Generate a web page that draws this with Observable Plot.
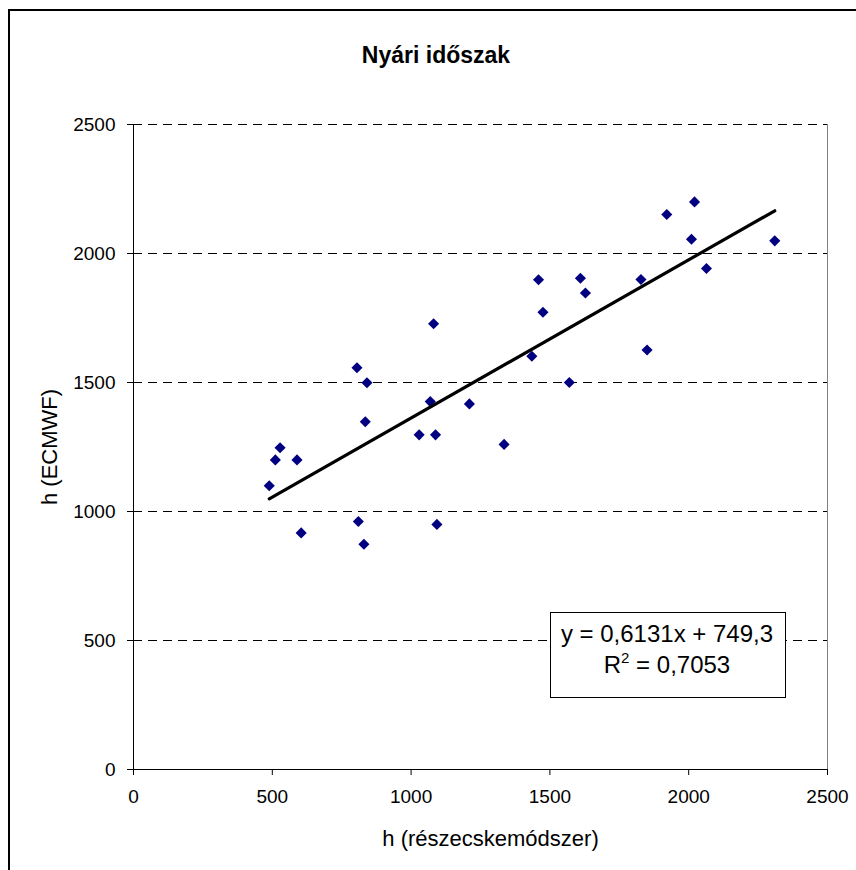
<!DOCTYPE html>
<html>
<head>
<meta charset="utf-8">
<script src="https://cdn.jsdelivr.net/npm/d3@7"></script>
<script src="https://cdn.jsdelivr.net/npm/@observablehq/plot@0.6"></script>
<style>
  html, body { margin: 0; padding: 0; background: #fff; }
  body { width: 856px; height: 870px; overflow: hidden; position: relative;
         font-family: "Liberation Sans", Arial, sans-serif; }
  #frame { position: absolute; left: 8px; top: 9px; width: 900px; height: 900px;
           border-left: 2px solid #000; border-top: 2px solid #000; pointer-events: none; }
  #title { box-sizing: border-box; width: 856px; height: 90px; padding-top: 20px; padding-left: 16px;
           line-height: 70px; text-align: center; font-weight: bold; font-size: 23px; color: #000; }
  #chart svg { display: block; }
</style>
</head>
<body>
<div id="frame"></div>
<div id="title">Nyári időszak</div>
<div id="chart"></div>
<script>
// Particle-method height (x) vs. ECMWF height (y), summer period
const xValues = [489, 511, 528, 589, 604, 805, 810, 835, 841, 830,
                 1029, 1069, 1081, 1088, 1093, 1210, 1335, 1435, 1459, 1475,
                 1570, 1610, 1628, 1828, 1850, 1921, 2010, 2021, 2064, 2310];
const yValues = [1100, 1200, 1247, 1200, 917, 1557, 961, 1348, 1499, 873,
                 1297, 1426, 1728, 1297, 950, 1417, 1260, 1602, 1898, 1772,
                 1500, 1904, 1847, 1899, 1626, 2151, 2055, 2200, 1942, 2049];
const ticks = [0, 500, 1000, 1500, 2000, 2500];
const gridValues = [500, 1000, 1500, 2000, 2500];

// Linear trend line coefficients
const slope = 0.6131;
const intercept = 749.3;
const rSquared = 0.7053;

const xLabel = "h (részecskemódszer)";
const yLabel = "h (ECMWF)";

const points = xValues.map((x, i) => ({x, y: yValues[i]}));
const [xMin, xMax] = d3.extent(xValues);
const trend = [xMin, xMax].map(x => ({x, y: slope * x + intercept}));

const fmt = (v, digits) => v.toFixed(digits).replace(".", ",");

const chart = Plot.plot({
  width: 856,
  height: 780,
  marginLeft: 133,
  marginRight: 29,
  marginTop: 34,
  marginBottom: 101,
  style: {fontFamily: "'Liberation Sans', Arial, sans-serif", fontSize: "19px", color: "#000", background: "#fff"},
  x: {domain: [0, 2500]},
  y: {domain: [0, 2500]},
  marks: [
    Plot.ruleY(gridValues, {stroke: "#000", strokeWidth: 1, strokeDasharray: "9,6"}),
    Plot.ruleX([2500], {stroke: "#808080", strokeWidth: 1}),
    Plot.ruleY([0], {stroke: "#000", strokeWidth: 1}),
    Plot.ruleX([0], {stroke: "#000", strokeWidth: 1}),
    Plot.axisX({ticks, tickSize: 6, tickPadding: 14, tickFormat: d3.format("d"), label: null, fontSize: 19, strokeWidth: 1}),
    Plot.axisY({ticks, tickSize: 6, tickPadding: 12, tickFormat: d3.format("d"), label: null, fontSize: 19, strokeWidth: 1}),
    Plot.dot(points, {x: "x", y: "y", symbol: "diamond2", r: 5, fill: "#000080", stroke: "none"}),
    Plot.line(trend, {x: "x", y: "y", stroke: "#000", strokeWidth: 3.2}),
    Plot.text([xLabel], {frameAnchor: "bottom", lineAnchor: "middle", textAnchor: "middle", dx: 10, dy: 69, fontSize: 22, fill: "#000"}),
    Plot.text([yLabel], {frameAnchor: "left", lineAnchor: "middle", textAnchor: "middle", dx: -84, rotate: -90, fontSize: 22, fill: "#000"})
  ]
});

// Trend line equation box
const svg = d3.select(chart);
const box = svg.append("g");
box.append("rect")
  .attr("x", 550.5).attr("y", 522.5).attr("width", 235).attr("height", 85)
  .attr("fill", "#fff").attr("stroke", "#000").attr("stroke-width", 1);
box.append("text")
  .attr("x", 667).attr("y", 552).attr("text-anchor", "middle")
  .attr("font-size", 24).attr("fill", "#000")
  .text(`y = ${fmt(slope, 4)}x + ${fmt(intercept, 1)}`);
const r2 = box.append("text")
  .attr("x", 667).attr("y", 583).attr("text-anchor", "middle")
  .attr("font-size", 24).attr("fill", "#000");
r2.append("tspan").text("R");
r2.append("tspan").attr("font-size", 15).attr("dy", -10).text("2");
r2.append("tspan").attr("dy", 10).text(` = ${fmt(rSquared, 4)}`);

document.getElementById("chart").appendChild(chart);
</script>
</body>
</html>
